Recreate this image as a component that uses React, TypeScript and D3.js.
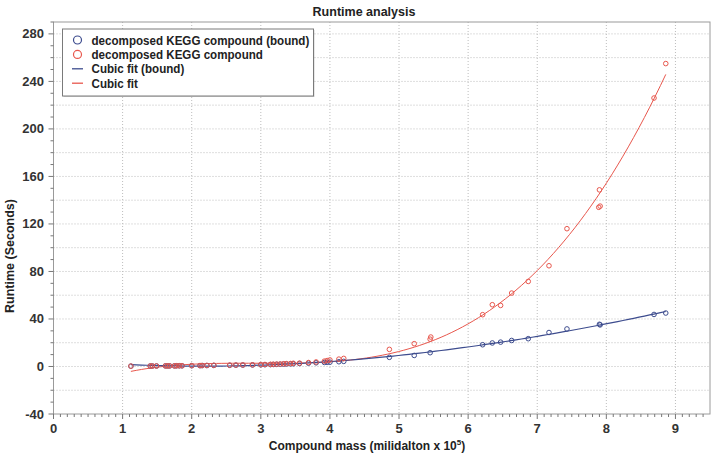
import React from "react";
import * as d3 from "d3";

// compound mass (x 10^5 millidalton) and runtime (s)
const boundMass = [
  1.12, 1.4, 1.43, 1.49, 1.62, 1.65, 1.68, 1.75, 1.78, 1.82, 1.86, 2.0, 2.12, 2.15, 2.22, 2.32,
  2.55, 2.64, 2.74, 2.88, 3.0, 3.06, 3.14, 3.18, 3.23, 3.28, 3.33, 3.37, 3.43, 3.47, 3.56, 3.69,
  3.8, 3.92, 3.96, 4.0, 4.13, 4.2, 4.86, 5.22, 5.45, 6.21, 6.35, 6.47, 6.63, 6.87, 7.17, 7.43,
  7.9, 7.91, 8.69, 8.86,
];
const boundRuntime = [
  0.3, 0.4, 0.4, 0.4, 0.5, 0.5, 0.5, 0.5, 0.6, 0.6, 0.6, 0.7, 0.7, 0.8, 0.8, 0.9,
  1.0, 1.1, 1.2, 1.3, 1.4, 1.5, 1.6, 1.7, 1.8, 1.9, 2.0, 2.1, 2.2, 2.3, 2.5, 2.8,
  3.1, 3.4, 3.5, 3.6, 4.0, 4.3, 7.7, 9.3, 11.6, 18.3, 19.8, 20.5, 21.9, 23.4, 28.6, 31.6,
  35.5, 35.0, 43.8, 45.0,
];
const freeMass = [
  1.12, 1.4, 1.43, 1.49, 1.62, 1.65, 1.68, 1.75, 1.78, 1.82, 1.86, 2.0, 2.12, 2.15, 2.22, 2.32,
  2.55, 2.64, 2.74, 2.88, 3.0, 3.06, 3.14, 3.18, 3.23, 3.28, 3.33, 3.37, 3.43, 3.47, 3.56, 3.69,
  3.8, 3.92, 3.96, 4.0, 4.13, 4.2, 4.86, 5.22, 5.45, 5.46, 6.21, 6.35, 6.47, 6.63, 6.87, 7.17,
  7.43, 7.9, 7.91, 7.89, 8.69, 8.86,
];
const freeRuntime = [
  0.3, 0.4, 0.4, 0.4, 0.5, 0.5, 0.5, 0.5, 0.6, 0.6, 0.6, 0.7, 0.8, 0.8, 0.9, 1.0,
  1.1, 1.2, 1.3, 1.4, 1.6, 1.7, 1.8, 1.9, 2.0, 2.1, 2.3, 2.4, 2.5, 2.7, 2.8, 3.3,
  3.8, 4.5, 5.0, 5.5, 6.2, 6.8, 14.4, 19.2, 23.0, 24.8, 43.6, 52.0, 51.4, 61.8, 71.6, 84.8,
  116.0, 148.7, 135.0, 134.0, 226.0, 255.0,
];

const xTicks = [0, 1, 2, 3, 4, 5, 6, 7, 8, 9];
const yTicks = [-40, 0, 40, 80, 120, 160, 200, 240, 280];

const legendLabels = [
  "decomposed KEGG compound (bound)",
  "decomposed KEGG compound",
  "Cubic fit (bound)",
  "Cubic fit",
];

const BLUE = "#3d4c8e";
const RED = "#e8574d";
const FONT = "'Liberation Sans', Arial, sans-serif";

// least-squares cubic fit
function cubicFit(xs: number[], ys: number[]) {
  const n = 4;
  const A: number[][] = Array.from({ length: n }, () => new Array(n + 1).fill(0));
  xs.forEach((x, k) => {
    for (let i = 0; i < n; i++) {
      for (let j = 0; j < n; j++) A[i][j] += Math.pow(x, i + j);
      A[i][n] += ys[k] * Math.pow(x, i);
    }
  });
  for (let c = 0; c < n; c++) {
    let p = c;
    for (let r = c + 1; r < n; r++) if (Math.abs(A[r][c]) > Math.abs(A[p][c])) p = r;
    [A[c], A[p]] = [A[p], A[c]];
    for (let r = 0; r < n; r++) {
      if (r === c) continue;
      const f = A[r][c] / A[c][c];
      for (let k = c; k <= n; k++) A[r][k] -= f * A[c][k];
    }
  }
  const coef = A.map((row, i) => row[n] / row[i]);
  return (x: number) => coef[0] + coef[1] * x + coef[2] * x * x + coef[3] * x * x * x;
}

function App() {
  const width = 714;
  const height = 454;
  const left = 53.5;
  const right = 710;
  const top = 22;
  const bottom = 414;

  const x = d3.scaleLinear().domain([0, 9.5]).range([left, right]);
  const y = d3.scaleLinear().domain([-40, 290]).range([bottom, top]);

  const fitLine = (xs: number[], ys: number[]) => {
    const f = cubicFit(xs, ys);
    const [lo, hi] = d3.extent(xs) as [number, number];
    const pts = d3.range(0, 101).map((i) => lo + ((hi - lo) * i) / 100);
    return d3
      .line<number>()
      .x((v) => x(v))
      .y((v) => y(f(v)))(pts);
  };

  const xMinor = d3.range(0, 95).map((i) => i / 10);
  const yMinor = d3.range(-40, 291, 10);
  const yGrid = d3.range(-20, 290, 20);

  return (
    <svg
      width={width}
      height={height}
      style={{ position: "absolute", left: 0, top: 0, display: "block", background: "#fff" }}
    >
      <text x={364} y={16} textAnchor="middle" fontFamily={FONT} fontSize={12.5} fontWeight="bold" fill="#222">
        Runtime analysis
      </text>

      {/* grid */}
      <g stroke="#bdbdbd" strokeDasharray="1,2" strokeWidth={1}>
        {xTicks.slice(1).map((t) => (
          <line key={"gx" + t} x1={x(t)} x2={x(t)} y1={top} y2={bottom} />
        ))}
        {yGrid.map((t) => (
          <line key={"gy" + t} x1={left} x2={right} y1={y(t)} y2={y(t)} />
        ))}
      </g>

      {/* frame */}
      <rect x={left} y={top} width={right - left} height={bottom - top} fill="none" stroke="#9a9a9a" />

      {/* ticks */}
      <g stroke="#777">
        {yMinor.map((t) => (
          <line key={"ym" + t} x1={left - (t % 40 === 0 ? 5 : 3)} x2={left} y1={y(t)} y2={y(t)} />
        ))}
        {xMinor.map((t, i) => (
          <line key={"xm" + t} x1={x(t)} x2={x(t)} y1={bottom} y2={bottom + (i % 10 === 0 ? 5 : 3)} />
        ))}
      </g>
      {yTicks.map((t) => (
        <text key={"yl" + t} x={44} y={y(t) + 4.5} textAnchor="end" fontFamily={FONT} fontSize={13} fontWeight="bold" fill="#333">
          {t}
        </text>
      ))}
      {xTicks.map((t) => (
        <text key={"xl" + t} x={x(t)} y={433} textAnchor="middle" fontFamily={FONT} fontSize={13} fontWeight="bold" fill="#333">
          {t}
        </text>
      ))}

      <text x={367} y={450} textAnchor="middle" fontFamily={FONT} fontSize={12} fontWeight="bold" fill="#222">
        Compound mass (milidalton x 10<tspan dy={-5} fontSize={8}>5</tspan>
        <tspan dy={5}>)</tspan>
      </text>
      <text
        transform={`translate(14,256) rotate(-90)`}
        textAnchor="middle"
        fontFamily={FONT}
        fontSize={12.5}
        fontWeight="bold"
        fill="#222"
      >
        Runtime (Seconds)
      </text>

      {/* fits */}
      <path d={fitLine(freeMass, freeRuntime) || ""} fill="none" stroke={RED} strokeWidth={1} />
      <path d={fitLine(boundMass, boundRuntime) || ""} fill="none" stroke={BLUE} strokeWidth={1.2} />

      {/* points */}
      {boundMass.map((m, i) => (
        <circle key={"b" + i} cx={x(m)} cy={y(boundRuntime[i])} r={2.3} fill="none" stroke={BLUE} strokeWidth={1} />
      ))}
      {freeMass.map((m, i) => (
        <circle key={"f" + i} cx={x(m)} cy={y(freeRuntime[i])} r={2.3} fill="none" stroke={RED} strokeWidth={1} />
      ))}

      {/* legend */}
      <g>
        <rect x={63.5} y={30} width={251} height={67} fill="#777" opacity={0.35} />
        <rect x={62.5} y={29} width={251} height={67} fill="#fff" stroke="#7a7a7a" />
        {legendLabels.map((label, i) => {
          const ly = 40 + i * 14.4;
          const color = i % 2 === 0 ? BLUE : RED;
          return (
            <g key={label}>
              {i < 2 ? (
                <circle cx={77.5} cy={ly} r={4} fill="none" stroke={color} strokeWidth={1.2} />
              ) : (
                <line x1={72} x2={83} y1={ly} y2={ly} stroke={color} strokeWidth={1.3} />
              )}
              <text
                transform={`translate(91.5,${ly + 4.5}) scale(0.86,1)`}
                fontFamily={FONT}
                fontSize={13.5}
                fontWeight="bold"
                fill="#222"
              >
                {label}
              </text>
            </g>
          );
        })}
      </g>
    </svg>
  );
}

export default App;
